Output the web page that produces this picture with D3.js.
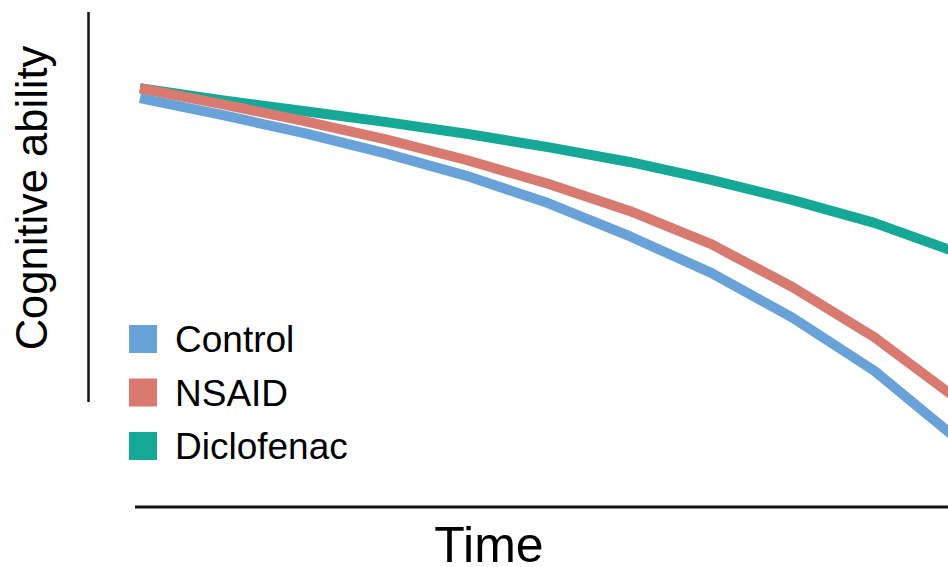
<!DOCTYPE html>
<html>
<head>
<meta charset="utf-8">
<script src="https://cdn.jsdelivr.net/npm/d3@7"></script>
<style>
  html, body { margin: 0; padding: 0; background: #fff; }
  svg { display: block; }
  text { font-family: "Liberation Sans", Arial, sans-serif; fill: #000; }
</style>
</head>
<body>
<svg id="chart" width="948" height="567"></svg>
<script>
// ---- data ----
const timePoints = [0, 1, 2, 3, 4, 5, 6, 7, 8, 9, 10];
const seriesNames = ["Control", "NSAID", "Diclofenac"];
const controlValues = [82.6, 79.2, 75.6, 71.5, 66.9, 61.4, 54.7, 47.3, 38.2, 27.5, 13.9];
const nsaidValues = [84.6, 81.4, 78.0, 74.3, 70.1, 65.3, 59.8, 53.1, 44.4, 34.3, 22.0];
const diclofenacValues = [84.6, 82.2, 80.0, 77.8, 75.4, 72.7, 69.7, 66.1, 62.0, 57.4, 51.5];
const seriesColors = ["#68a2d8", "#d97a71", "#15a896"];
const xAxisLabel = "Time";
const yAxisLabel = "Cognitive ability";

// ---- drawing ----
const svg = d3.select("#chart");
const W = 948, H = 567;

const x = d3.scaleLinear().domain([0, 10]).range([140, 956]);
const y = d3.scaleLinear().domain([0, 100]).range([507, 12]);

const series = [
  { name: seriesNames[0], values: controlValues, color: seriesColors[0] },
  { name: seriesNames[1], values: nsaidValues, color: seriesColors[1] },
  { name: seriesNames[2], values: diclofenacValues, color: seriesColors[2] }
];

// axes (plain lines, no ticks)
svg.append("line")
  .attr("x1", 88.5).attr("x2", 88.5)
  .attr("y1", 12).attr("y2", 402)
  .attr("stroke", "#111").attr("stroke-width", 2.5);

svg.append("line")
  .attr("x1", 135).attr("x2", W)
  .attr("y1", 507).attr("y2", 507)
  .attr("stroke", "#111").attr("stroke-width", 3);

const line = d3.line()
  .x((d, i) => x(timePoints[i]))
  .y(d => y(d));

const clip = svg.append("defs").append("clipPath").attr("id", "clip");
clip.append("rect").attr("x", 0).attr("y", 0).attr("width", W).attr("height", H);

const drawOrder = [2, 0, 1];
const g = svg.append("g").attr("clip-path", "url(#clip)");
drawOrder.forEach(k => {
  const s = series[k];
  g.append("path")
    .datum(s.values)
    .attr("d", line)
    .attr("fill", "none")
    .attr("stroke", s.color)
    .attr("stroke-width", 10)
    .attr("stroke-linejoin", "round")
    .attr("stroke-linecap", "butt");
});

// legend
const legend = svg.append("g");
series.forEach((s, i) => {
  const ly = 325 + i * 53.5;
  legend.append("rect")
    .attr("x", 129).attr("y", ly)
    .attr("width", 28).attr("height", 28)
    .attr("fill", s.color);
  legend.append("text")
    .attr("x", 175).attr("y", ly + 27)
    .attr("font-size", 37)
    .text(s.name);
});

// axis labels
svg.append("text")
  .attr("x", 489).attr("y", 562)
  .attr("text-anchor", "middle")
  .attr("font-size", 50)
  .text(xAxisLabel);

svg.append("text")
  .attr("transform", "translate(47,198) rotate(-90)")
  .attr("text-anchor", "middle")
  .attr("font-size", 43.5)
  .text(yAxisLabel);
</script>
</body>
</html>
